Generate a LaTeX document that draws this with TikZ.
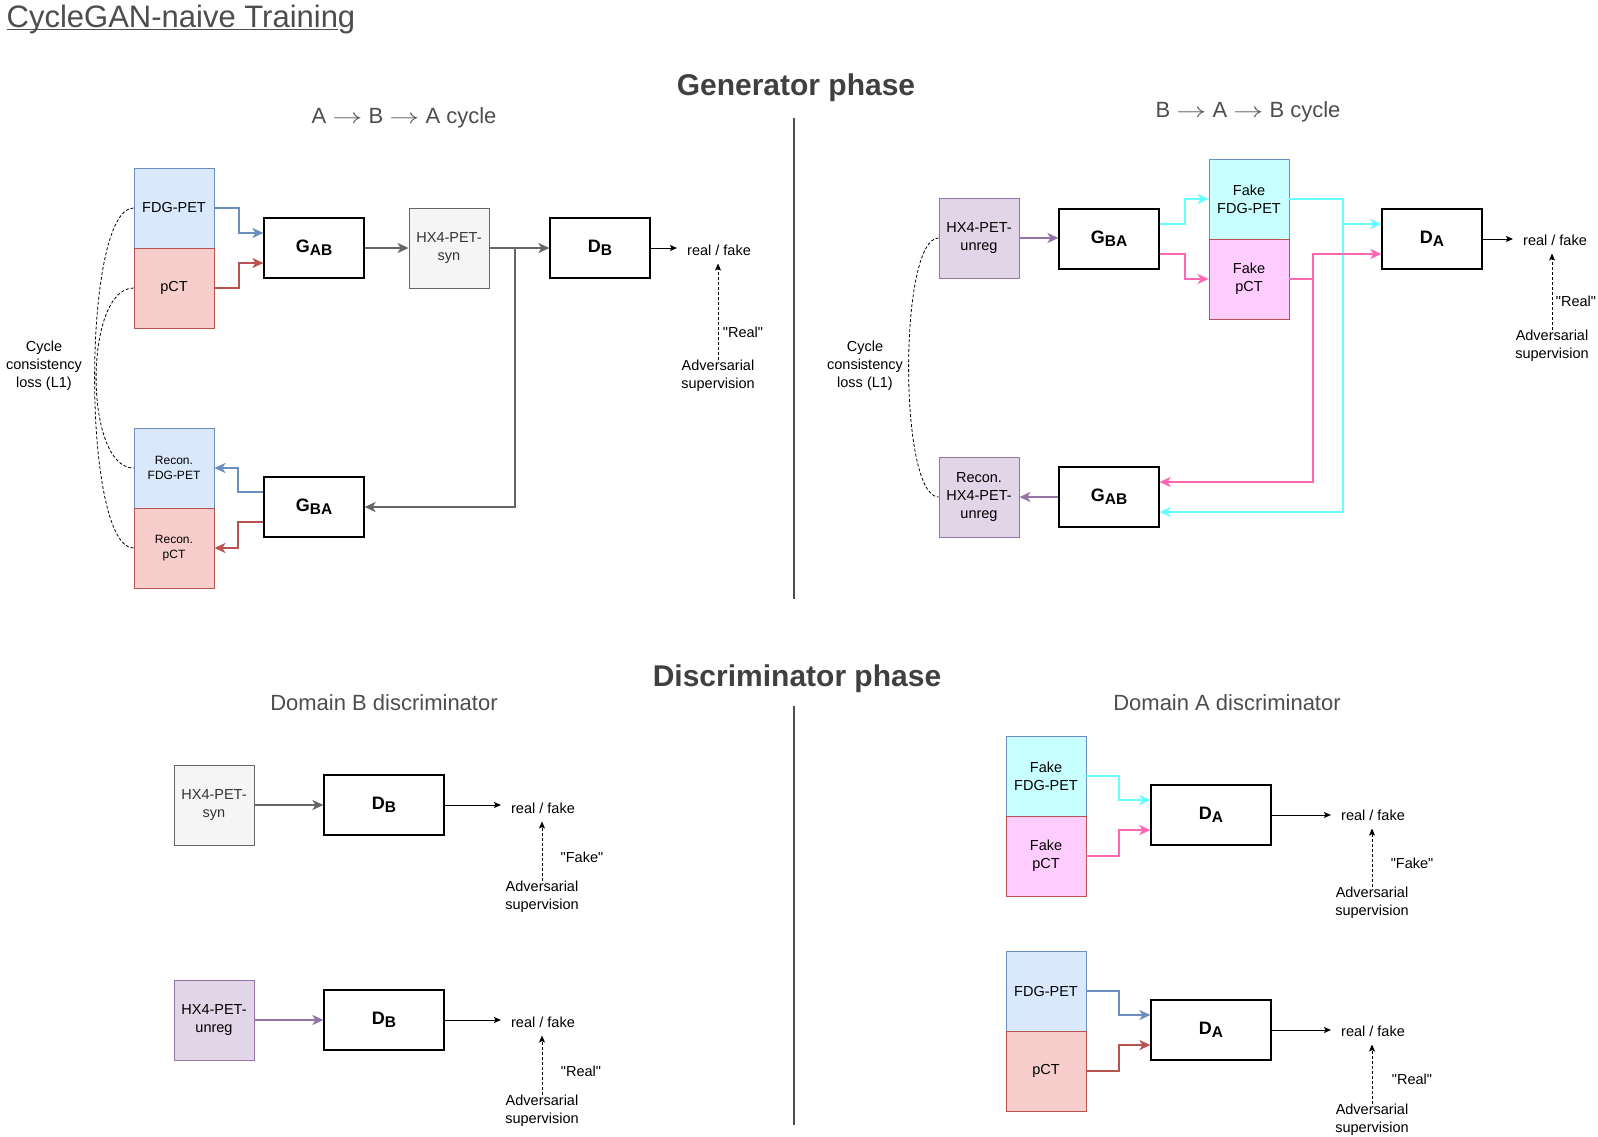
\documentclass[tikz,border=0pt]{standalone}
\usepackage{fontspec}
\setmainfont{Liberation Sans}[Ligatures=TeXOff]
\usetikzlibrary{arrows.meta}
\definecolor{fdgfill}{HTML}{DAE8FC}
\definecolor{fdgline}{HTML}{6C8EBF}
\definecolor{ctfill}{HTML}{F8CECC}
\definecolor{ctline}{HTML}{B85450}
\definecolor{synfill}{HTML}{F5F5F5}
\definecolor{synline}{HTML}{666666}
\definecolor{syntext}{HTML}{333333}
\definecolor{hxfill}{HTML}{E1D5E7}
\definecolor{hxline}{HTML}{9673A6}
\definecolor{fakefdgfill}{HTML}{C8FFFF}
\definecolor{fakectfill}{HTML}{FFCCFF}
\definecolor{cyanline}{HTML}{66FFFF}
\definecolor{pinkline}{HTML}{FF66B3}
\definecolor{headgray}{HTML}{4D4D4D}
\definecolor{phasegray}{HTML}{404040}

\newcommand{\netlabel}[2]{{\bfseries\fontsize{18pt}{18pt}\selectfont #1\raisebox{-3pt}{\fontsize{15.5pt}{15.5pt}\selectfont #2}}}
\newcommand{\cyclearrow}{\scalebox{1.45}[1]{$\rightarrow$}}

\tikzset{
  imgbox/.style={draw, rectangle, minimum width=80pt, minimum height=80pt, inner sep=0pt, align=center, line width=0.8pt, font=\fontsize{14.5pt}{18pt}\selectfont},
  smalltext/.style={font=\fontsize{12pt}{15pt}\selectfont},
  netbox/.style={draw=black, fill=white, rectangle, minimum width=100pt, minimum height=60pt, inner sep=0pt, line width=1.2pt},
  dbox/.style={minimum width=120pt},
  txt/.style={inner sep=0pt, align=center, font=\fontsize{14.5pt}{18pt}\selectfont},
  flow/.style={line width=2pt, -{Stealth[length=11pt,width=10pt,inset=3pt]}},
  outarrow/.style={line width=0.9pt, -{Stealth[length=7pt,width=6pt,inset=1.5pt]}, shorten >=10pt},
  supervise/.style={line width=0.9pt, dash pattern=on 3pt off 2pt, -{Stealth[length=7pt,width=6pt,inset=1.5pt]}, shorten >=8pt},
  cycleloss/.style={line width=0.8pt, dash pattern=on 3pt off 2pt},
  header/.style={inner sep=0pt, anchor=base, text=headgray, font=\fontsize{22pt}{22pt}\selectfont},
  phase/.style={inner sep=0pt, anchor=base, text=phasegray, font=\fontsize{30pt}{30pt}\selectfont\bfseries},
  maintitle/.style={inner sep=0pt, anchor=base west, text=headgray, font=\fontsize{31pt}{31pt}\selectfont},
  divider/.style={draw=headgray, line width=2pt},
}

\begin{document}
\begin{tikzpicture}[x=1pt, y=-1pt]%
\useasboundingbox (0,0) rectangle (1598,1136);%
\node[maintitle] (title) at (6.5, 27) {CycleGAN-naive Training};%
\draw[headgray, line width=1.2pt] ([yshift=-2.5pt]title.base west) -- ([xshift=-17pt, yshift=-2.5pt]title.base east);%
\node[phase] (genphase) at (796, 95) {Generator phase};%
\node[phase] (disphase) at (797, 686) {Discriminator phase};%
\node[header] (abacycle) at (404, 123) {A \cyclearrow{} B \cyclearrow{} A cycle};%
\node[header] (babcycle) at (1248, 117) {B \cyclearrow{} A \cyclearrow{} B cycle};%
\node[header] (domb) at (384, 710) {Domain B discriminator};%
\node[header] (doma) at (1227, 710) {Domain A discriminator};%
\draw[divider] (794, 118) -- (794, 599);%
\draw[divider] (794, 706) -- (794, 1125);%
%
\node[imgbox, fill=fdgfill, draw=fdgline] (fdg) at (174, 208) {FDG-PET};%
\node[imgbox, fill=ctfill, draw=ctline] (pct) at (174, 288) {pCT};%
\node[netbox] (gab) at (314, 248) {\netlabel{G}{AB}};%
\node[imgbox, fill=synfill, draw=synline, text=syntext] (syn) at (449, 248) {HX4-PET-\\syn};%
\node[netbox] (db) at (600, 248) {\netlabel{D}{B}};%
\node[netbox] (gba) at (314, 507) {\netlabel{G}{BA}};%
\node[imgbox, smalltext, fill=fdgfill, draw=fdgline] (recfdg) at (174, 468) {Recon.\\FDG-PET};%
\node[imgbox, smalltext, fill=ctfill, draw=ctline] (recpct) at (174, 548) {Recon.\\pCT};%
\node[txt] (cycab) at (44, 366) {Cycle\\consistency\\loss (L1)};%
\node[txt] (rfab) at (719, 250) {real / fake};%
\node[txt] (advab) at (718, 376) {Adversarial\\supervision};%
\node[txt] (realab) at (743, 332) {"Real"};%
\draw[flow, fdgline] (fdg.east) -- ++(25,0) |- ([yshift=15pt]gab.west);%
\draw[flow, ctline] (pct.east) -- ++(25,0) |- ([yshift=-15pt]gab.west);%
\draw[flow, synline] (gab.east) -- (syn.west);%
\draw[flow, synline] (syn.east) -- (db.west);%
\draw[flow, synline] (syn.east) -- ++(26,0) |- (gba.east);%
\draw[flow, fdgline] ([yshift=15pt]gba.west) -- ++(-25,0) |- (recfdg.east);%
\draw[flow, ctline] ([yshift=-15pt]gba.west) -- ++(-25,0) |- (recpct.east);%
\draw[outarrow] (db.east) -- (db.east -| rfab.west);%
\draw[supervise] (advab.north) -- (advab.north |- rfab.south);%
\draw[cycleloss] (fdg.west) .. controls +(-52,0) and +(-52,0) .. (recpct.west);%
\draw[cycleloss] (pct.west) .. controls +(-50,0) and +(-50,0) .. (recfdg.west);%
%
\node[imgbox, fill=hxfill, draw=hxline] (hx) at (979, 238) {HX4-PET-\\unreg};%
\node[netbox] (gba2) at (1109, 239) {\netlabel{G}{BA}};%
\node[imgbox, fill=fakefdgfill, draw=fdgline] (fakefdg) at (1249, 199) {Fake\\FDG-PET};%
\node[imgbox, fill=fakectfill, draw=ctline] (fakepct) at (1249, 279) {Fake\\pCT};%
\node[netbox] (da) at (1432, 239) {\netlabel{D}{A}};%
\node[netbox] (gab2) at (1109, 497) {\netlabel{G}{AB}};%
\node[imgbox, fill=hxfill, draw=hxline] (rechx) at (979, 497) {Recon.\\HX4-PET-\\unreg};%
\node[txt] (cycba) at (865, 366) {Cycle\\consistency\\loss (L1)};%
\node[txt] (rfba) at (1555, 240) {real / fake};%
\node[txt] (advba) at (1552, 346) {Adversarial\\supervision};%
\node[txt] (realba) at (1576, 301) {"Real"};%
\draw[flow, hxline] (hx.east) -- (hx.east -| gba2.west);%
\draw[flow, cyanline] ([yshift=15pt]gba2.east) -- ++(25,0) |- (fakefdg.west);%
\draw[flow, pinkline] ([yshift=-15pt]gba2.east) -- ++(25,0) |- (fakepct.west);%
\draw[flow, cyanline] (fakefdg.east) -- ++(54,0) |- ([yshift=15pt]da.west);%
\draw[flow, cyanline] (fakefdg.east) -- ++(54,0) |- ([yshift=-15pt]gab2.east);%
\draw[flow, pinkline] (fakepct.east) -- ++(24,0) |- ([yshift=-15pt]da.west);%
\draw[flow, pinkline] (fakepct.east) -- ++(24,0) |- ([yshift=15pt]gab2.east);%
\draw[flow, hxline] (gab2.west) -- (rechx.east);%
\draw[outarrow] (da.east) -- (da.east -| rfba.west);%
\draw[supervise] (advba.north) -- (advba.north |- rfba.south);%
\draw[cycleloss] (hx.west) .. controls +(-40,0) and +(-40,0) .. (rechx.west);%
%
\node[imgbox, fill=synfill, draw=synline, text=syntext] (syn2) at (214, 805) {HX4-PET-\\syn};%
\node[netbox, dbox] (db2) at (384, 805) {\netlabel{D}{B}};%
\node[txt] (rfsyn) at (543, 808) {real / fake};%
\node[txt] (advsyn) at (542, 897) {Adversarial\\supervision};%
\node[txt] (fakesyn) at (582, 857) {"Fake"};%
\draw[flow, synline] (syn2.east) -- (db2.west);%
\draw[outarrow] (db2.east) -- (db2.east -| rfsyn.west);%
\draw[supervise] (advsyn.north) -- (advsyn.north |- rfsyn.south);%
\node[imgbox, fill=hxfill, draw=hxline] (hx2) at (214, 1020) {HX4-PET-\\unreg};%
\node[netbox, dbox] (db3) at (384, 1020) {\netlabel{D}{B}};%
\node[txt] (rfhx) at (543, 1022) {real / fake};%
\node[txt] (advhx) at (542, 1111) {Adversarial\\supervision};%
\node[txt] (realhx) at (581, 1071) {"Real"};%
\draw[flow, hxline] (hx2.east) -- (db3.west);%
\draw[outarrow] (db3.east) -- (db3.east -| rfhx.west);%
\draw[supervise] (advhx.north) -- (advhx.north |- rfhx.south);%
%
\node[imgbox, fill=fakefdgfill, draw=fdgline] (fakefdg2) at (1046, 776) {Fake\\FDG-PET};%
\node[imgbox, fill=fakectfill, draw=ctline] (fakepct2) at (1046, 856) {Fake\\pCT};%
\node[netbox, dbox] (da2) at (1211, 815) {\netlabel{D}{A}};%
\node[txt] (rffake) at (1373, 815) {real / fake};%
\node[txt] (advfake) at (1372, 903) {Adversarial\\supervision};%
\node[txt] (fakefake) at (1412, 863) {"Fake"};%
\draw[flow, cyanline] (fakefdg2.east) -- ++(33,0) |- ([yshift=15pt]da2.west);%
\draw[flow, pinkline] (fakepct2.east) -- ++(33,0) |- ([yshift=-15pt]da2.west);%
\draw[outarrow] (da2.east) -- (da2.east -| rffake.west);%
\draw[supervise] (advfake.north) -- (advfake.north |- rffake.south);%
\node[imgbox, fill=fdgfill, draw=fdgline] (fdg2) at (1046, 991) {FDG-PET};%
\node[imgbox, fill=ctfill, draw=ctline] (pct2) at (1046, 1071) {pCT};%
\node[netbox, dbox] (da3) at (1211, 1030) {\netlabel{D}{A}};%
\node[txt] (rfreal) at (1373, 1031) {real / fake};%
\node[txt] (advreal) at (1372, 1120) {Adversarial\\supervision};%
\node[txt] (realreal) at (1412, 1079) {"Real"};%
\draw[flow, fdgline] (fdg2.east) -- ++(33,0) |- ([yshift=15pt]da3.west);%
\draw[flow, ctline] (pct2.east) -- ++(33,0) |- ([yshift=-15pt]da3.west);%
\draw[outarrow] (da3.east) -- (da3.east -| rfreal.west);%
\draw[supervise] (advreal.north) -- (advreal.north |- rfreal.south);%
\end{tikzpicture}
\end{document}
